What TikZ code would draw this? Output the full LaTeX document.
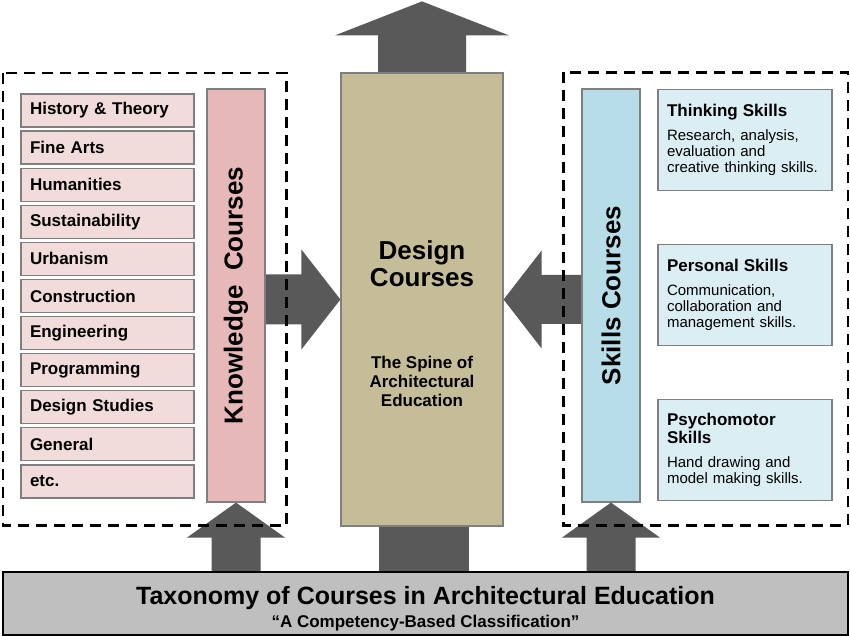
\documentclass[tikz,border=0pt]{standalone}
\usepackage{fontspec}
\setmainfont{Liberation Sans}
\usepackage{graphicx}
\usepackage{tikz}
\usetikzlibrary{positioning, calc, backgrounds}
\definecolor{txArrow}{HTML}{595959}
\definecolor{txEdge}{HTML}{7F7F7F}
\definecolor{txPink}{HTML}{F2DCDB}
\definecolor{txRose}{HTML}{E6B9B8}
\definecolor{txTan}{HTML}{C4BD97}
\definecolor{txBlue}{HTML}{B7DEE8}
\definecolor{txIce}{HTML}{DBEEF4}
\definecolor{txGray}{HTML}{BFBFBF}
\newcommand\skhead{\fontsize{17}{19}\selectfont\bfseries}

\begin{document}
\begin{tikzpicture}[x=1pt, y=1pt,
  topic/.style={rectangle, draw=txEdge, fill=txPink, line width=1.2pt, outer sep=0pt,
    minimum height=33pt, text width=155pt, inner xsep=9pt, inner ysep=0pt, align=left,
    font=\fontsize{17}{19}\selectfont\bfseries},
  bar/.style={rectangle, draw=txEdge, line width=1.2pt, minimum width=58pt,
    minimum height=413pt, inner sep=0pt, font=\fontsize{26}{28}\selectfont\bfseries},
  skill/.style={rectangle, draw=txEdge, fill=txIce, line width=1.2pt, outer sep=0pt,
    minimum height=101pt, text width=156pt, inner xsep=9pt, align=left,
    font=\fontsize{15}{16}\selectfont},
  dashbox/.style={draw=black, line width=2.6pt, dash pattern=on 11pt off 7pt},
  blockarrow/.style={fill=txArrow}]
  \useasboundingbox (0,0) rectangle (850,636);

  % knowledge side
  \node[topic] (hist) at (107.5,525.5) {History \& Theory};
  \node[topic, below=4.1pt of hist] (fine) {Fine Arts};
  \node[topic, below=4.1pt of fine] (hum) {Humanities};
  \node[topic, below=4.1pt of hum] (sust) {Sustainability};
  \node[topic, below=4.1pt of sust] (urb) {Urbanism};
  \node[topic, below=4.1pt of urb] (constr) {Construction};
  \node[topic, below=4.1pt of constr] (eng) {Engineering};
  \node[topic, below=4.1pt of eng] (prog) {Programming};
  \node[topic, below=4.1pt of prog] (dstud) {Design Studies};
  \node[topic, below=4.1pt of dstud] (gen) {General};
  \node[topic, below=4.1pt of gen] (etc) {etc.};
  \node[bar, fill=txRose] (know) at (236,340.5) {\rotatebox{90}{Knowledge\ \ Courses}};

  % design spine
  \node[rectangle, draw=txEdge, fill=txTan, line width=1.2pt, minimum width=162pt,
    minimum height=453pt] (design) at (422,336.5) {};
  \node[font=\fontsize{26}{27}\selectfont\bfseries, align=center] (dhead) at (422,372)
    {Design\\Courses};
  \node[font=\fontsize{17}{19}\selectfont\bfseries, align=center] (dsub) at (422,255)
    {The Spine of\\Architectural\\Education};

  % skills side
  \node[bar, fill=txBlue] (skills) at (611,340.5) {\rotatebox{90}{Skills Courses}};
  \node[skill] (think) at (745,496) {{\skhead Thinking Skills}\\[8pt]Research, analysis,\\
    evaluation and\\creative thinking skills.};
  \node[skill, below=54pt of think] (pers) {{\skhead Personal Skills}\\[8pt]Communication,\\
    collaboration and\\management skills.};
  \node[skill, below=54pt of pers] (psych) {{\skhead Psychomotor}\\[2pt]{\skhead Skills}\\[8pt]
    Hand drawing and\\model making skills.};

  % base
  \node[rectangle, draw=black, fill=txGray, line width=2pt, minimum width=845pt,
    minimum height=63pt] (title) at (425.5,32.5) {};
  \node[font=\fontsize{17}{18}\selectfont\bfseries, align=center] (ttext) at (425.5,27)
    {{\fontsize{25}{27}\selectfont Taxonomy of Courses in Architectural Education}\\[5pt]
    “A Competency-Based Classification”};

  \draw[dashbox] ($(hist.north west)+(-18,21)$) rectangle ($(know.south east)+(21,-23)$);
  \draw[dashbox] ($(skills.north west)+(-18,16)$) rectangle ($(think.east |- skills.south)+(16,-23)$);

  \begin{scope}[on background layer]
    \fill[blockarrow] (design.west) -- ++(-39,50) -- ++(0,-25) -- ++(-37,0) -- ++(0,-50)
      -- ++(37,0) -- ++(0,-25) -- cycle;
    \fill[blockarrow] (design.east) -- ++(38,49) -- ++(0,-24.5) -- ++(41,0) -- ++(0,-49)
      -- ++(-41,0) -- ++(0,-24.5) -- cycle;
    \fill[blockarrow] ($(design.north)+(-44,0)$) -- ++(0,37) -- ++(-43,0) -- ++(87,34)
      -- ++(87,-34) -- ++(-43,0) -- ++(0,-37) -- cycle;
    \fill[blockarrow] (know.south) -- ++(-49,-35) -- ++(24.5,0) -- ++(0,-35) -- ++(49,0)
      -- ++(0,35) -- ++(24.5,0) -- cycle;
    \fill[blockarrow] (skills.south) -- ++(-49,-35) -- ++(24.5,0) -- ++(0,-35) -- ++(49,0)
      -- ++(0,35) -- ++(24.5,0) -- cycle;
    \fill[blockarrow] ($(design.south)+(-43,0)$) rectangle ($(design.south |- title.north)+(47,0)$);
  \end{scope}
\end{tikzpicture}
\end{document}
